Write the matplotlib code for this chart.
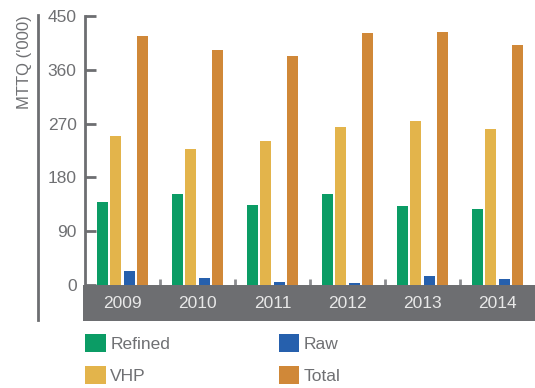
import numpy as np
import matplotlib
matplotlib.use('Agg')
from matplotlib import pyplot as plt
from matplotlib.patches import Rectangle
from matplotlib.lines import Line2D
from matplotlib.transforms import blended_transform_factory

plt.rcParams['font.family'] = ['Liberation Sans Narrow', 'Liberation Sans', 'DejaVu Sans']

years = ['2009', '2010', '2011', '2012', '2013', '2014']
refined = [139, 152, 134, 152, 132, 127]
vhp = [249, 228, 241, 264, 274, 261]
raw = [23, 12, 5, 3, 15, 10]
total = [417, 393, 383, 422, 423, 402]

series = [
    ('Refined', refined, '#0b9c65'),
    ('VHP', vhp, '#e3b44b'),
    ('Raw', raw, '#2660ad'),
    ('Total', total, '#d08838'),
]

GREY = '#6d6e71'
TEXT_GREY = '#6f7073'

W, H = 535, 388
fig = plt.figure(figsize=(W / 100, H / 100), dpi=100)
ax = fig.add_axes([85 / W, 1 - 285 / H, 1 - 85 / W, (285 - 16) / H])

x = np.arange(len(years))
step = 0.179
width = 0.147
for i, (name, vals, color) in enumerate(series):
    ax.bar(x + (i - 1.5) * step, vals, width=width, color=color, label=name, zorder=2)

ax.set_xlim(-0.5, len(years) - 0.5)
ax.set_ylim(0, 450)
ax.set_yticks(np.arange(0, 451, 90))
ax.set_xticks(x[:-1] + 0.5)
ax.set_xticklabels([])

for side in ['top', 'right', 'bottom']:
    ax.spines[side].set_visible(False)
ax.spines['left'].set_color(GREY)
ax.spines['left'].set_linewidth(2)

ax.tick_params(axis='y', direction='in', length=8, width=2, color=GREY,
               labelsize=12.5, labelcolor=TEXT_GREY, pad=6)
ax.tick_params(axis='x', direction='in', length=4.5, width=2, color='#8a8b8e')

# dark band holding the year labels
fig.patches.append(Rectangle((83 / W, 1 - 320.7 / H), 1 - 83 / W, 35.7 / H,
                             transform=fig.transFigure, facecolor=GREY,
                             edgecolor='none', zorder=1))
trans = blended_transform_factory(ax.transData, fig.transFigure)
for xi, yr in zip(x, years):
    fig.text(xi, 1 - 303 / H, yr, transform=trans, ha='center', va='center',
             color='#e8e8e8', fontsize=12.5, zorder=3)

# outer rule and axis title
fig.lines.append(Line2D([38 / W, 38 / W], [1 - 15 / H, 1 - 320 / H],
                        transform=fig.transFigure, color=GREY, linewidth=2))
fig.text(25 / W, 1 - 62 / H, "MTTQ ('000)", rotation=90, ha='center',
         va='center', color=TEXT_GREY, fontsize=12)

handles, labels = ax.get_legend_handles_labels()
fig.legend(handles, labels,
           loc='upper left', bbox_to_anchor=(85 / W, 1 - 334 / H), ncol=2,
           frameon=False, fontsize=12.5, labelcolor=TEXT_GREY,
           handlelength=1.2, handleheight=1.2, handletextpad=0.25,
           columnspacing=6.25, labelspacing=0.82, borderpad=0, borderaxespad=0)

fig.savefig('out.png', dpi=100)
